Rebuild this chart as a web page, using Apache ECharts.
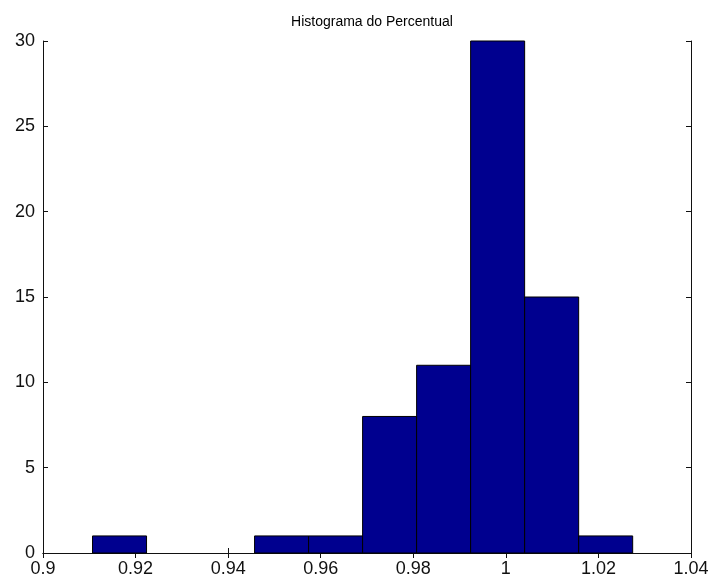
<!DOCTYPE html>
<html>
<head>
<meta charset="utf-8">
<script src="https://cdn.jsdelivr.net/npm/echarts@6/dist/echarts.min.js"></script>
<style>html,body{margin:0;padding:0;background:#fff;}#c{width:713px;height:581px;}</style>
</head>
<body>
<div id="c"></div>
<script>
var title = 'Histograma do Percentual';
var binStart = [0.9107, 0.92237, 0.93404, 0.94571, 0.95738, 0.96905, 0.98072, 0.99239, 1.00406, 1.01573];
var binEnd   = [0.92237, 0.93404, 0.94571, 0.95738, 0.96905, 0.98072, 0.99239, 1.00406, 1.01573, 1.0274];
var counts   = [1, 0, 0, 1, 1, 8, 11, 30, 15, 1];

var data = counts.map(function (c, i) { return [binStart[i], binEnd[i], c]; });
var chart = echarts.init(document.getElementById('c'));
var fontFam = 'Liberation Sans, Arial, sans-serif';
var axisLine = {show: true, lineStyle: {color: '#111', width: 1}};
var tick = {show: true, inside: true, length: 5, lineStyle: {color: '#111'}};
chart.setOption({
  animation: false,
  backgroundColor: '#fff',
  title: {text: title, left: 367, textAlign: 'center', top: 10,
    textStyle: {fontFamily: fontFam, fontSize: 14, fontWeight: 'normal', color: '#000'}},
  grid: {left: 43, right: 22, top: 41, bottom: 28, containLabel: false, show: false},
  xAxis: [{
    type: 'value', min: 0.9, max: 1.04, interval: 0.02, position: 'bottom',
    axisLine: axisLine, axisTick: tick,
    splitLine: {show: false},
    axisLabel: {fontFamily: fontFam, fontSize: 18, color: '#111', margin: 7,
      formatter: function (v) { return String(parseFloat(v.toFixed(2))); }}
  }, {
    type: 'value', min: 0.9, max: 1.04, interval: 0.02, position: 'top',
    axisLine: axisLine, axisTick: tick,
    splitLine: {show: false}, axisLabel: {show: false}
  }],
  yAxis: [{
    type: 'value', min: 0, max: 30, interval: 5, position: 'left',
    axisLine: axisLine, axisTick: tick,
    splitLine: {show: false},
    axisLabel: {fontFamily: fontFam, fontSize: 18, color: '#111', margin: 8}
  }, {
    type: 'value', min: 0, max: 30, interval: 5, position: 'right',
    axisLine: axisLine, axisTick: tick,
    splitLine: {show: false}, axisLabel: {show: false}
  }],
  series: [{
    type: 'custom',
    xAxisIndex: 0, yAxisIndex: 0,
    data: data,
    encode: {x: [0, 1], y: 2},
    renderItem: function (params, api) {
      var v = api.value(2);
      if (!v) return null;
      var p0 = api.coord([api.value(0), 0]);
      var p1 = api.coord([api.value(1), v]);
      return {
        type: 'rect',
        shape: {x: p0[0], y: p1[1], width: p1[0] - p0[0], height: p0[1] - p1[1]},
        style: {fill: '#00008F', stroke: '#000', lineWidth: 1}
      };
    }
  }]
});
</script>
</body>
</html>
